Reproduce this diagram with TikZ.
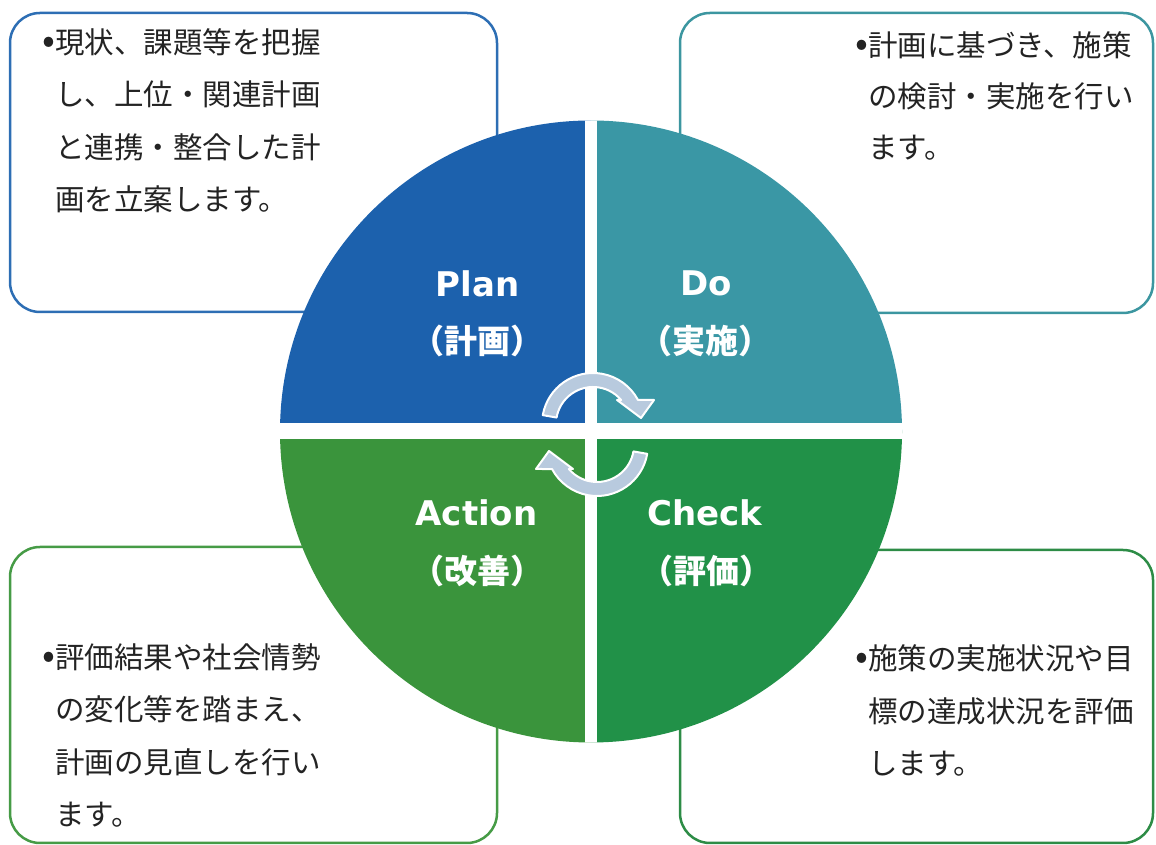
\documentclass[tikz,border=0pt]{standalone}
\usepackage{fontspec}
\usepackage{tikz}
\setmainfont{Noto Sans CJK JP}
\newfontfamily\jpfont{Noto Sans CJK JP}
\newfontfamily\latinfont{DejaVu Sans}

\definecolor{planblue}{RGB}{28,97,173}
\definecolor{doteal}{RGB}{58,151,165}
\definecolor{actgreen}{RGB}{58,148,60}
\definecolor{chkgreen}{RGB}{33,145,72}
\definecolor{planline}{RGB}{45,110,180}
\definecolor{doline}{RGB}{60,150,160}
\definecolor{actline}{RGB}{70,155,70}
\definecolor{chkline}{RGB}{45,140,70}
\definecolor{arrowblue}{RGB}{184,202,222}
\definecolor{textgray}{RGB}{35,35,35}

\newcommand{\dotmark}{\llap{{\fontsize{38}{38}\selectfont •}}}

\tikzset{
	box/.style={line width=2.5pt, rounded corners=30pt},
	boxtext/.style={anchor=north west, align=left, inner sep=0pt, text=textgray,
		font=\jpfont\fontsize{29.5}{52.5}\selectfont},
	head/.style={text=white, font=\latinfont\bfseries\fontsize{34}{40}\selectfont},
	headjp/.style={text=white, font=\jpfont\bfseries\fontsize{33}{40}\selectfont},
	cyclearrow/.style={fill=arrowblue, draw=white, line width=2pt, line join=round}
}

\begin{document}
\begin{tikzpicture}[x=1pt,y=1pt]
			\useasboundingbox (0,0) rectangle (1156,845);
			% boxes behind the circle
			\draw[box, planline] (10,533) rectangle (497,832);
			\draw[box, doline] (680,532) rectangle (1153,832);
			\draw[box, actline] (10,2) rectangle (497,298);
			\draw[box, chkline] (680,2) rectangle (1153,295);
			% the four quarters
			\coordinate (c) at (591,413.5);
			\begin{scope}
				\clip (c) circle (311);
				\fill[planblue] (c) rectangle ++(-320,320);
				\fill[doteal] (c) rectangle ++(320,320);
				\fill[actgreen] (c) rectangle ++(-320,-320);
				\fill[chkgreen] (c) rectangle ++(320,-320);
				\draw[white, line width=12pt] ([yshift=320]c) -- ([yshift=-320]c);
				\draw[white, line width=16pt] ([xshift=-320]c) -- ([xshift=320]c);
			\end{scope}
			% turning arrows
			\begin{scope}[shift={(593,421)}]
				\filldraw[cyclearrow] (170:51) arc[start angle=170, end angle=28.1, radius=51] -- (61,24) -- (48,6) -- (24,24) -- (40.4:37) arc[start angle=40.4, end angle=170, radius=37] -- cycle;
			\end{scope}
			\begin{scope}[rotate around={180:(595,410.5)}, shift={(593,421)}]
				\filldraw[cyclearrow] (170:51) arc[start angle=170, end angle=28.1, radius=51] -- (61,24) -- (48,6) -- (24,24) -- (40.4:37) arc[start angle=40.4, end angle=170, radius=37] -- cycle;
			\end{scope}
			% labels
			\node[head] (plan) at (477.5,561.5) {Plan};
			\node[headjp] (planjp) at (477.5,504) {（計画）};
			\node[head] (do) at (706,561.5) {Do};
			\node[headjp] (dojp) at (705,504) {（実施）};
			\node[head] (action) at (476.5,332.5) {Action};
			\node[headjp] (actionjp) at (477.5,274) {（改善）};
			\node[head] (check) at (705,332.5) {Check};
			\node[headjp] (checkjp) at (706,274) {（評価）};
			% box texts
			\node[boxtext] (plantext) at (55,817) {\dotmark 現状、課題等を把握\\し、上位・関連計画\\と連携・整合した計\\画を立案します。};
			\node[boxtext, font=\jpfont\fontsize{29.5}{51}\selectfont] (dotext) at (868,813.5) {\dotmark 計画に基づき、施策\\の検討・実施を行い\\ます。};
			\node[boxtext] (actiontext) at (55,201.5) {\dotmark 評価結果や社会情勢\\の変化等を踏まえ、\\計画の見直しを行い\\ます。};
			\node[boxtext] (checktext) at (868,200.5) {\dotmark 施策の実施状況や目\\標の達成状況を評価\\します。};
		\end{tikzpicture}
\end{document}
